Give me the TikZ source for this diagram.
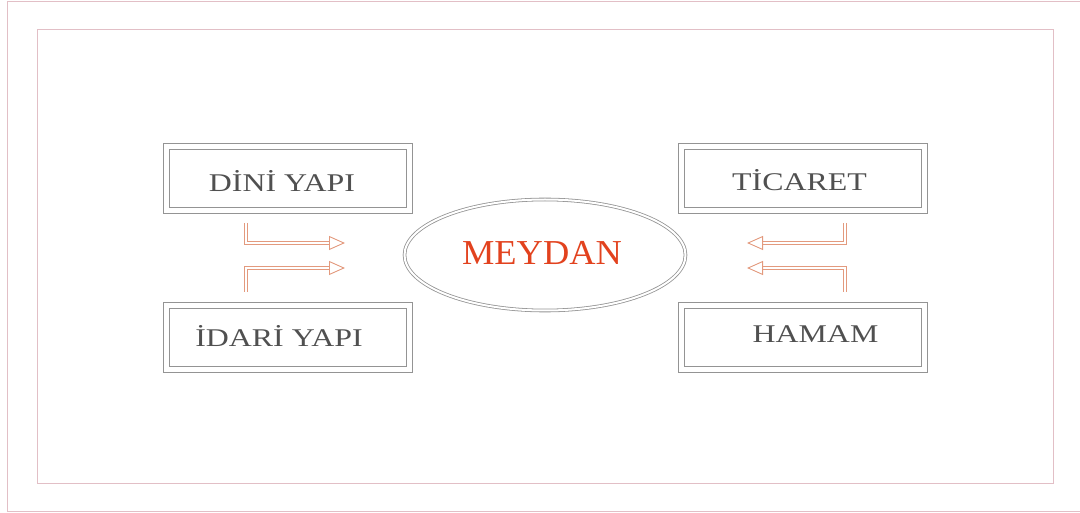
\documentclass[tikz,border=0pt]{standalone}
\usepackage{fontspec}
\setmainfont{Liberation Serif}
\usetikzlibrary{arrows.meta,shapes.geometric}
\definecolor{cercevec}{HTML}{E2BFC6}
\definecolor{kutuc}{HTML}{949494}
\definecolor{yazic}{HTML}{505050}
\definecolor{okc}{HTML}{E39A7E}
\definecolor{meydanc}{HTML}{E2421E}
\begin{document}
\begin{tikzpicture}[x=1pt, y=-1pt,
    kutu/.style={draw=kutuc, double=white, double distance=5pt, line width=1pt,
        minimum width=243pt, minimum height=64pt, inner sep=0pt},
    etiket/.style={text=yazic, font=\fontsize{25.5}{28}\selectfont, xscale=1.25, transform shape},
    okyol/.style={draw=okc, double=white, double distance=2.2pt, line width=0.9pt,
        -{Triangle[open, length=16pt, width=14pt, fill=white]}}]
    \useasboundingbox (0,0) rectangle (1080,513);
    % frames
    \draw[cercevec, line width=1pt] (1080,2) -- (7,2) -- (7,511) -- (1080,511);
    \draw[cercevec, line width=1pt] (37,30) rectangle (1053,483);
    % boxes
    \node[kutu] (dini) at (288,178.5) {};
    \node[kutu] (idari) at (288,337.5) {};
    \node[kutu] (ticaret) at (802.5,178.5) {};
    \node[kutu] (hamam) at (802.5,337.5) {};
    \node[etiket] (dini-t) at ([xshift=-6pt, yshift=-3pt]dini) {DİNİ YAPI};
    \node[etiket] (idari-t) at ([xshift=-9pt, yshift=1pt]idari) {İDARİ YAPI};
    \node[etiket] (ticaret-t) at ([xshift=-3pt, yshift=-2pt]ticaret) {TİCARET};
    \node[etiket] (hamam-t) at ([xshift=13pt, yshift=3pt]hamam) {HAMAM};
    % center
    \node[ellipse, draw=kutuc, double=white, double distance=2pt, line width=0.8pt,
        minimum width=281pt, minimum height=111pt, inner sep=0pt] (meydan) at (545,255) {};
    \node[text=meydanc, font=\fontsize{35}{38}\selectfont, xscale=1.04, transform shape]
        (meydan-t) at ([xshift=-3pt, yshift=2pt]meydan) {MEYDAN};
    % arrows
    \foreach \ad/\bx/\by/\ux/\uy in {a/246/223/345/243, b/246/292/345/268,
                                     c/845/223/747/243, d/845/292/747/268} {
        \coordinate (\ad-bas) at (\bx,\by);
        \coordinate (\ad-uc) at (\ux,\uy);
        \draw[okyol] (\ad-bas) |- (\ad-uc);
    }
\end{tikzpicture}
\end{document}
